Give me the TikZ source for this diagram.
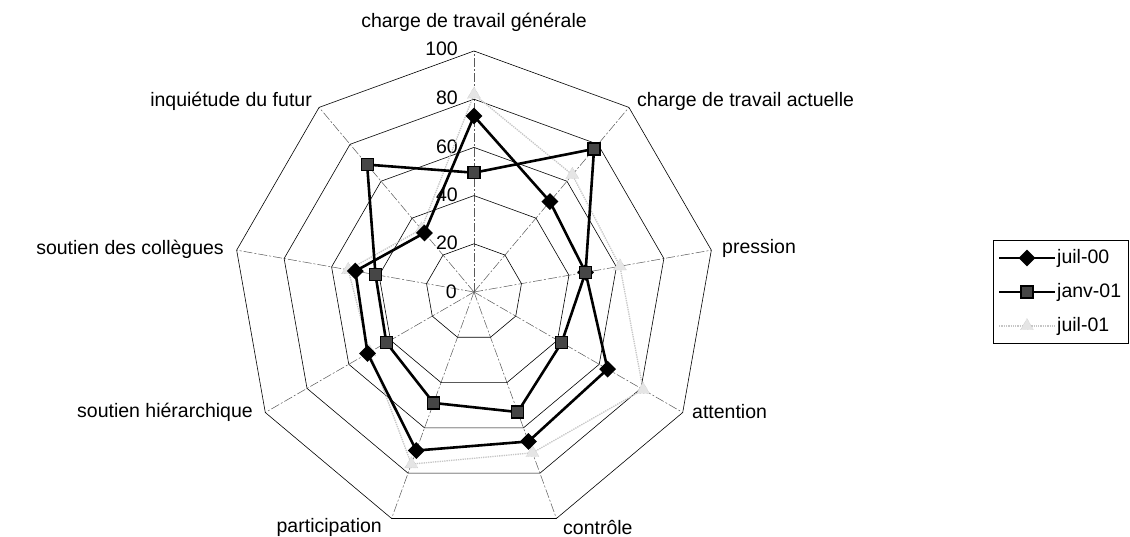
\documentclass[tikz,border=0pt]{standalone}
\usepackage{fontspec}
\setmainfont{Liberation Sans}
\usetikzlibrary{shapes.geometric}
\begin{document}
\begin{tikzpicture}[x=1pt,y=1pt,
  ring/.style={black, line width=0.6pt},
  spoke/.style={gray!70!black, line width=0.5pt, dash pattern=on 9pt off 2pt on 2pt off 2pt},
  lab/.style={font=\fontsize{19.5}{23}\selectfont, inner sep=0pt},
  tick/.style={font=\fontsize{19.5}{23}\selectfont, inner sep=0pt, anchor=east},
  sA/.style={black, line width=2.6pt, line join=round},
  sB/.style={black, line width=2.6pt, line join=round},
  sC/.style={gray!45, line width=1.3pt, densely dotted},
  mA/.style={diamond, fill=black, minimum size=17pt, inner sep=0pt},
  mB/.style={rectangle, draw=black, fill=gray!55!black, line width=1.2pt, minimum size=12pt, inner sep=0pt},
  mC/.style={regular polygon, regular polygon sides=3, draw=gray!55, fill=gray!20, densely dotted, minimum size=15pt, inner sep=0pt},
  legbox/.style={draw=black, line width=0.7pt},
]
\fill[white] (0,0) rectangle (1130,536);
\useasboundingbox (0,0) rectangle (1130,536);
\begin{scope}[shift={(474,244)}]
  \coordinate (O) at (0,0);
  % grid
  \foreach \a in {90,50,10,-30,-70,-110,-150,170,130}
    \draw[spoke] (O) -- (\a:241);
  \foreach \r in {20,40,60,80,100}
    \draw[ring] (90:{\r*2.41}) \foreach \a in {50,10,-30,-70,-110,-150,-190,-230} { -- (\a:{\r*2.41}) } -- cycle;
  % tick labels
  \node[tick] (t0) at (-17,0) {0};
  \node[tick] (t20) at (-16,{20*2.41+1}) {20};
  \node[tick] (t40) at (-16,{40*2.41+1}) {40};
  \node[tick] (t60) at (-16,{60*2.41+1}) {60};
  \node[tick] (t80) at (-16,{80*2.41+1}) {80};
  \node[tick] (t100) at (-16,{100*2.41+2}) {100};
  % axis labels
  \node[lab] (l1) at (0,270) {charge de travail générale};
  \node[lab, anchor=west] (l2) at (163,191) {charge de travail actuelle};
  \node[lab, anchor=west] (l3) at (248,44) {pression};
  \node[lab, anchor=west] (l4) at (218,-120) {attention};
  \node[lab, anchor=west] (l5) at (89,-235) {contrôle};
  \node[lab, anchor=east] (l6) at (-92,-235) {participation};
  \node[lab, anchor=east] (l7) at (-221,-120) {soutien hiérarchique};
  \node[lab, anchor=east] (l8) at (-250,43) {soutien des collègues};
  \node[lab, anchor=east] (l9) at (-162,191) {inquiétude du futur};
  % data points
  \foreach [count=\i] \a/\v in {90/82,50/63.5,10/61.5,-30/81,-70/71,-110/76,-150/50,170/53,130/34}
    \coordinate (C\i) at (\a:{\v*2.41});
  \foreach [count=\i] \a/\v in {90/73,50/49,10/47,-30/64,-70/66,-110/70,-150/51,170/50,130/32}
    \coordinate (A\i) at (\a:{\v*2.41});
  \foreach [count=\i] \a/\v in {90/49.5,50/77.5,10/47,-30/42,-70/53,-110/49,-150/42,170/41.5,130/69}
    \coordinate (B\i) at (\a:{\v*2.41});
  % juil-01
  \draw[sC] (C1) -- (C2) -- (C3) -- (C4) -- (C5) -- (C6) -- (C7) -- (C8) -- (C9) -- cycle;
  \foreach \i in {1,...,9} \node[mC] (mc\i) at (C\i) {};
  % juil-00
  \draw[sA] (A1) -- (A2) -- (A3) -- (A4) -- (A5) -- (A6) -- (A7) -- (A8) -- (A9) -- cycle;
  \foreach \i in {1,...,9} \node[mA] (ma\i) at (A\i) {};
  % janv-01
  \draw[sB] (B1) -- (B2) -- (B3) -- (B4) -- (B5) -- (B6) -- (B7) -- (B8) -- (B9) -- cycle;
  \foreach \i in {1,...,9} \node[mB] (mb\i) at (B\i) {};
\end{scope}
% legend
\draw[legbox] (993,296) rectangle (1128,193);
\coordinate (la1) at (999,278); \coordinate (la2) at (1055,278);
\coordinate (lb1) at (999,244); \coordinate (lb2) at (1055,244);
\coordinate (lc1) at (999,210); \coordinate (lc2) at (1055,210);
\draw[sA, line width=2pt] (la1) -- (la2);
\node[mA] (lma) at (1027,278) {};
\draw[sB, line width=2pt] (lb1) -- (lb2);
\node[mB] (lmb) at (1027,244) {};
\draw[sC] (lc1) -- (lc2);
\node[mC] (lmc) at (1027,210) {};
\node[lab, anchor=west] (ta) at (1057,278) {juil-00};
\node[lab, anchor=west] (tb) at (1057,244) {janv-01};
\node[lab, anchor=west] (tc) at (1057,210) {juil-01};
\end{tikzpicture}
\end{document}
